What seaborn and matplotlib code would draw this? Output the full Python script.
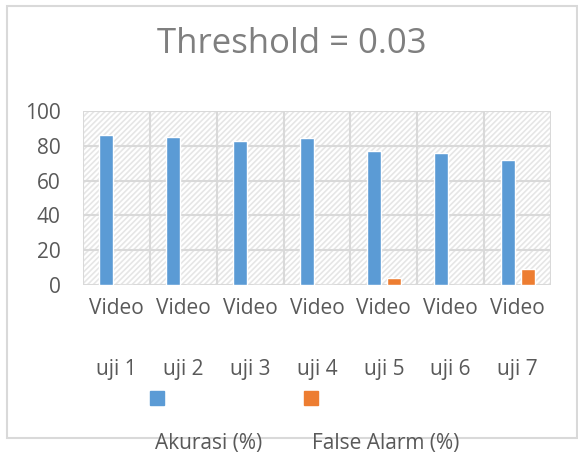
import matplotlib
matplotlib.use('Agg')
import matplotlib.pyplot as plt
import matplotlib.patches as mpatches
import pandas as pd
import seaborn as sns

categories = ['Video uji 1', 'Video uji 2', 'Video uji 3', 'Video uji 4',
              'Video uji 5', 'Video uji 6', 'Video uji 7']
tick_labels = ['Video\n\nuji 1', 'Video\n\nuji 2', 'Video\n\nuji 3', 'Video\n\nuji 4',
               'Video\n\nuji 5', 'Video\n\nuji 6', 'Video\n\nuji 7']
akurasi = [86.2, 85.0, 82.8, 84.5, 77.0, 75.9, 71.8]
false_alarm = [0, 0, 0, 0, 4.0, 0, 9.2]
series_names = ['Akurasi (%)', 'False Alarm (%)']
colors = ['#5b9bd5', '#ed7d31']

df = pd.DataFrame({
    'Kategori': categories * 2,
    'Seri': [series_names[0]] * 7 + [series_names[1]] * 7,
    'Nilai': akurasi + false_alarm,
})

sns.set_style('white')
plt.rcParams['font.family'] = ['Open Sans', 'DejaVu Sans']
plt.rcParams['hatch.linewidth'] = 1.2
text_color = '#595959'
grid_color = '#d9d9d9'

fig = plt.figure(figsize=(5.78, 4.59), dpi=100)
ax = fig.add_axes([83 / 578, 1 - 285 / 459, (551 - 83) / 578, (285 - 111) / 459])

# hatched plot area like the Excel pattern fill
ax.patch.set_facecolor('white')
ax.patch.set_hatch('//////')
ax.patch.set_edgecolor('#e6e6e6')

sns.barplot(data=df, x='Kategori', y='Nilai', hue='Seri', palette=colors,
            width=0.6, gap=0.3, saturation=1, ax=ax, legend=False, zorder=3)

ax.set_xlim(-0.5, 6.5)
ax.set_ylim(0, 100)
ax.set_yticks(range(0, 101, 20))
ax.set_xticks(range(7))
ax.set_xticklabels(tick_labels, linespacing=1.6)
ax.set_xticks([i - 0.5 for i in range(8)], minor=True)
ax.tick_params(axis='both', which='both', length=0, labelsize=15, colors=text_color)
ax.tick_params(axis='x', pad=9)
ax.tick_params(axis='y', pad=16)
ax.grid(True, axis='y', which='major', color=grid_color, linewidth=1.5, zorder=1)
ax.grid(True, axis='x', which='minor', color=grid_color, linewidth=1.5, zorder=1)
ax.grid(False, axis='x', which='major')
ax.set_axisbelow(True)
for s in ax.spines.values():
    s.set_visible(False)
ax.set_xlabel('')
ax.set_ylabel('')

fig.text(292 / 578, 1 - 44 / 459, 'Threshold = 0.03', ha='center', va='center',
         fontsize=25, color='#7f7f7f')

handles = [mpatches.Patch(color=c) for c in colors]
fig.legend(handles, ['', ''], loc='center left', bbox_to_anchor=(132 / 578, 1 - 400 / 459),
           ncol=2, frameon=False, handlelength=0.72, handleheight=0.72,
           handletextpad=0, columnspacing=7.2, fontsize=14)
fig.text(155 / 578, 1 - 443 / 459, series_names[0], ha='left', va='center',
         fontsize=15, color=text_color)
fig.text(312 / 578, 1 - 443 / 459, series_names[1], ha='left', va='center',
         fontsize=15, color=text_color)

fig.patches.append(mpatches.Rectangle((7 / 578, 1 - 438 / 459), 570 / 578, 432 / 459,
                                      transform=fig.transFigure, fill=False,
                                      edgecolor=grid_color, linewidth=1.5, zorder=0))

fig.savefig('out.png', dpi=100)
